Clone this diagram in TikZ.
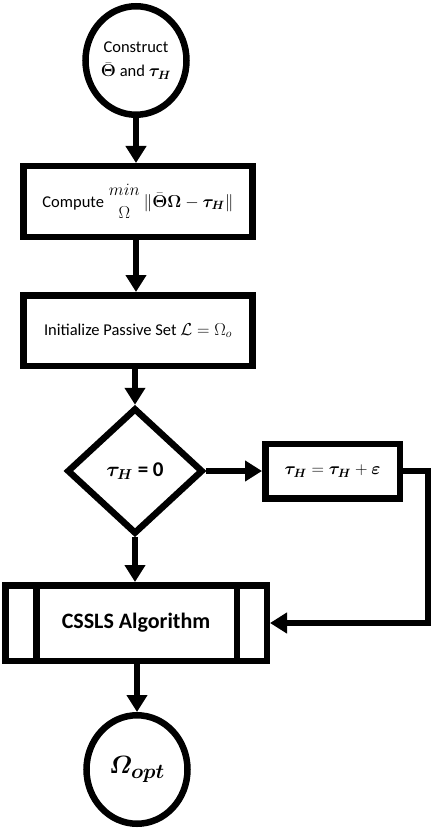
\documentclass[tikz,border=0pt]{standalone}
\usepackage{amsmath,amssymb,bm}
\usepackage{fontspec}
\setmainfont{Carlito}
\usetikzlibrary{shapes.geometric,arrows.meta}
\tikzset{
  fc/.style={draw=black, line width=6.5pt, fill=white, inner sep=0pt, align=center},
  term/.style={fc, ellipse, minimum width=101pt, minimum height=108.5pt, font=\fontsize{16.5}{22}\selectfont},
  procbox/.style={fc, rectangle, minimum width=229pt, minimum height=70.5pt, font=\fontsize{16.5}{20}\selectfont},
  decbox/.style={fc, diamond, minimum width=136pt, minimum height=126pt, font=\fontsize{21}{24}\selectfont},
  incbox/.style={fc, rectangle, minimum width=134.5pt, minimum height=54.5pt, font=\fontsize{17}{20}\selectfont},
  subbox/.style={fc, rectangle, minimum width=261.5pt, minimum height=75.5pt, font=\fontsize{22}{24}\selectfont},
  arr/.style={draw=black, line width=6.5pt, -{Triangle[length=17pt,width=20pt]}},
  plainline/.style={draw=black, line width=6.5pt}
}
\begin{document}
\begin{tikzpicture}[x=1pt,y=-1pt]
\useasboundingbox[fill=white] (0,0) rectangle (434,834);
\node[term] (start) at (136,60.5) {Construct\\[2pt]$\bar{\bm{\Theta}}$ and $\bm{\tau_H}$};
\node[procbox] (comp) at (138,201.5) {Compute $\genfrac{}{}{0pt}{0}{min}{\Omega}\,\|\bar{\bm{\Theta}}\bm{\Omega}-\bm{\tau_H}\|$};
\node[procbox] (init) at (138,330.5) {Initialize Passive Set $\mathcal{L}=\Omega_o$};
\node[decbox] (dec) at (135,471) {$\bm{\tau_H}$ \textbf{= 0}};
\node[incbox] (inc) at (332.5,471) {$\bm{\tau_H}=\bm{\tau_H}+\bm{\varepsilon}$};
\node[subbox] (alg) at (136,623) {\textbf{CSSLS Algorithm}};
\node[term] (end) at (137,769.5) {\fontsize{28}{30}\selectfont$\bm{\varOmega_{opt}}$};
% inner lines of predefined process
\draw[plainline] ([xshift=34.25pt]alg.north west) -- ([xshift=34.25pt]alg.south west);
\draw[plainline] ([xshift=-33.25pt]alg.north east) -- ([xshift=-33.25pt]alg.south east);
% connectors
\draw[arr] (start.south) -- (start.south |- comp.north);
\draw[arr] (comp.south -| start.south) -- (start.south |- init.north);
\draw[arr] (init.south -| dec.north) -- (dec.north);
\draw[arr] (dec.east) -- (inc.west);
\draw[arr] (dec.south) -- (dec.south |- alg.north);
\coordinate (fb) at (428,471);
\draw[arr] (inc.east) -- (fb) |- (alg.east);
\draw[arr] (alg.south -| end.north) -- (end.north);
\end{tikzpicture}
\end{document}
